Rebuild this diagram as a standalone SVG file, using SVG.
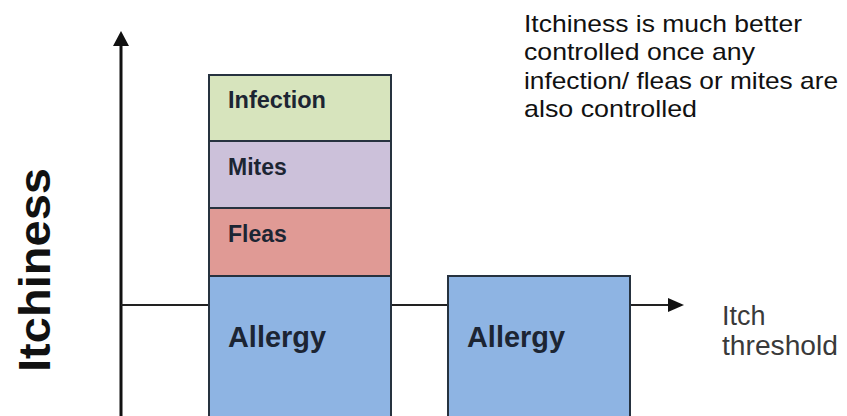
<svg xmlns="http://www.w3.org/2000/svg" width="847" height="416" viewBox="0 0 847 416">
<style>
.box{stroke:#26323f;stroke-width:2}
.lbl{font-family:"Liberation Sans",Arial,sans-serif;font-weight:bold;fill:#1c2533}
.note{font-family:"Liberation Sans",Arial,sans-serif;font-size:24px;fill:#111}
.axis{stroke:#111;stroke-width:3;fill:none}
.thr{stroke:#222;stroke-width:2;fill:none}
</style>
<defs>
<marker id="ah" viewBox="0 0 10 10" refX="9" refY="5" markerWidth="6" markerHeight="6" markerUnits="userSpaceOnUse" orient="auto">
<path d="M0,0 L10,5 L0,10 z" fill="#111"/>
</marker>
</defs>
<rect width="847" height="416" fill="#fff"/>
<g id="connectors">
<line class="axis" x1="121" y1="416" x2="121" y2="44"/>
<path d="M121,31 L113,46 L129,46 z" fill="#111"/>
<line class="thr" x1="121" y1="305" x2="209" y2="305"/>
<line class="thr" x1="391" y1="305" x2="448" y2="305"/>
<line class="thr" x1="630" y1="305" x2="670" y2="305"/>
<path d="M684,305 L668,298 L668,312 z" fill="#111"/>
</g>
<g id="node-infection">
<rect class="box" x="209" y="75" width="182" height="66" fill="#d7e4bd"/>
<text class="lbl" x="228" y="108" font-size="23" textLength="98" lengthAdjust="spacingAndGlyphs">Infection</text>
</g>
<g id="node-mites">
<rect class="box" x="209" y="141" width="182" height="67" fill="#ccc1da"/>
<text class="lbl" x="228" y="175" font-size="23">Mites</text>
</g>
<g id="node-fleas">
<rect class="box" x="209" y="208" width="182" height="68" fill="#e09a95"/>
<text class="lbl" x="228" y="242" font-size="23">Fleas</text>
</g>
<g id="node-allergy1">
<rect class="box" x="209" y="276" width="182" height="145" fill="#8eb4e3"/>
<text class="lbl" x="228" y="347" font-size="29" textLength="98" lengthAdjust="spacingAndGlyphs">Allergy</text>
</g>
<g id="node-allergy2">
<rect class="box" x="448" y="276" width="182" height="145" fill="#8eb4e3"/>
<text class="lbl" x="467" y="347" font-size="29" textLength="98" lengthAdjust="spacingAndGlyphs">Allergy</text>
</g>
<g id="label-threshold">
<text x="722" y="325" font-family="Liberation Sans,Arial,sans-serif" font-size="27" fill="#3a3a3a">Itch</text>
<text x="722" y="355" font-family="Liberation Sans,Arial,sans-serif" font-size="27" fill="#3a3a3a" textLength="116" lengthAdjust="spacingAndGlyphs">threshold</text>
</g>
<g id="label-axis">
<text x="50" y="270" transform="rotate(-90 50 270)" text-anchor="middle" font-family="Liberation Sans,Arial,sans-serif" font-weight="bold" font-size="45" fill="#111" textLength="204" lengthAdjust="spacingAndGlyphs">Itchiness</text>
</g>
<g id="label-note">
<text class="note" x="524" y="32" textLength="278" lengthAdjust="spacingAndGlyphs">Itchiness is much better</text>
<text class="note" x="524" y="60" textLength="231" lengthAdjust="spacingAndGlyphs">controlled once any</text>
<text class="note" x="524" y="89" textLength="314" lengthAdjust="spacingAndGlyphs">infection/ fleas or mites are</text>
<text class="note" x="524" y="117" textLength="173" lengthAdjust="spacingAndGlyphs">also controlled</text>
</g>
</svg>
